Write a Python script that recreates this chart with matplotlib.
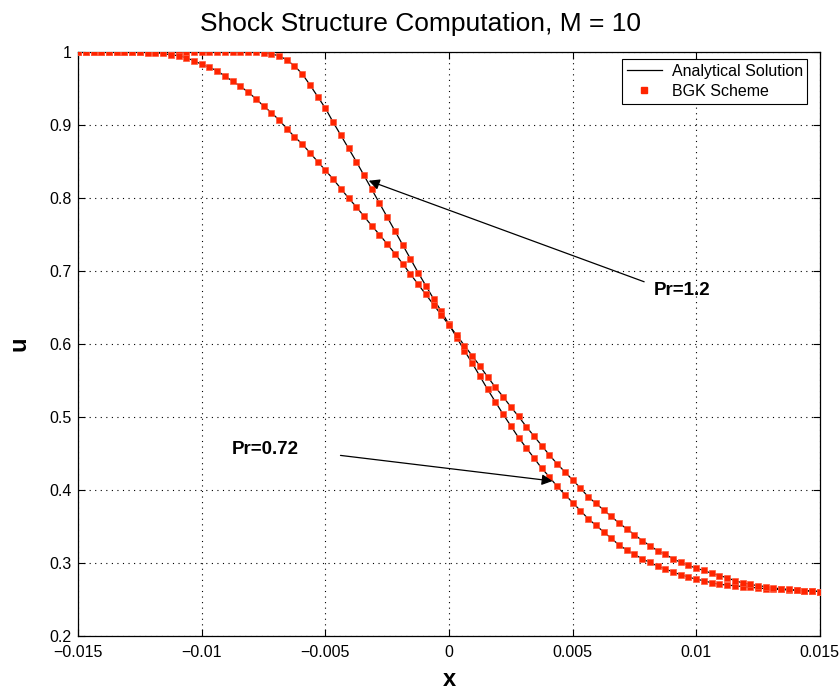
import numpy as np
import matplotlib
matplotlib.use("Agg")
import matplotlib.pyplot as plt

plt.rcParams['font.family'] = ['Liberation Sans', 'DejaVu Sans']

# mesh of the computation (97 points over the domain)
x = np.linspace(-0.015, 0.015, 97)

# u for Pr = 0.72 (wider shock)
u_pr072 = [1.000, 1.000, 1.000, 1.000, 1.000, 1.000, 1.000, 1.000, 1.000, 0.999,
           0.999, 0.998, 0.996, 0.995, 0.992, 0.988, 0.983, 0.979, 0.974, 0.967,
           0.960, 0.953, 0.945, 0.936, 0.926, 0.917, 0.907, 0.895, 0.884, 0.874,
           0.862, 0.850, 0.838, 0.826, 0.813, 0.800, 0.788, 0.775, 0.762, 0.750,
           0.737, 0.724, 0.710, 0.696, 0.682, 0.668, 0.654, 0.640, 0.626, 0.612,
           0.598, 0.584, 0.570, 0.555, 0.541, 0.528, 0.514, 0.501, 0.487, 0.474,
           0.461, 0.448, 0.436, 0.425, 0.414, 0.403, 0.391, 0.382, 0.373, 0.364,
           0.355, 0.347, 0.339, 0.331, 0.324, 0.317, 0.312, 0.306, 0.301, 0.297,
           0.293, 0.290, 0.286, 0.283, 0.280, 0.276, 0.273, 0.271, 0.269, 0.268,
           0.266, 0.265, 0.264, 0.263, 0.262, 0.262, 0.261]

# u for Pr = 1.2 (steeper shock)
u_pr12 = [1.000, 1.000, 1.000, 1.000, 1.000, 1.000, 1.000, 1.000, 1.000, 1.000,
          1.000, 1.000, 1.000, 1.000, 1.000, 1.000, 1.000, 1.000, 1.000, 1.000,
          1.000, 1.000, 1.000, 1.000, 0.999, 0.997, 0.995, 0.989, 0.981, 0.970,
          0.955, 0.939, 0.923, 0.904, 0.886, 0.868, 0.850, 0.831, 0.812, 0.793,
          0.774, 0.755, 0.736, 0.717, 0.698, 0.680, 0.662, 0.645, 0.627, 0.609,
          0.591, 0.574, 0.556, 0.538, 0.521, 0.504, 0.488, 0.472, 0.458, 0.444,
          0.430, 0.418, 0.405, 0.394, 0.383, 0.372, 0.361, 0.352, 0.343, 0.334,
          0.325, 0.318, 0.312, 0.306, 0.301, 0.296, 0.292, 0.288, 0.284, 0.281,
          0.278, 0.276, 0.273, 0.271, 0.270, 0.269, 0.268, 0.267, 0.266, 0.265,
          0.264, 0.264, 0.263, 0.263, 0.262, 0.262, 0.261]

xticks = [-0.015, -0.01, -0.005, 0, 0.005, 0.01, 0.015]
xtick_labels = ['\u22120.015', '\u22120.01', '\u22120.005', '0', '0.005', '0.01', '0.015']
yticks = [0.2, 0.3, 0.4, 0.5, 0.6, 0.7, 0.8, 0.9, 1]
ytick_labels = ['0.2', '0.3', '0.4', '0.5', '0.6', '0.7', '0.8', '0.9', '1']

red = '#ff2400'

fig = plt.figure(figsize=(8.4, 6.93), dpi=100)
ax = fig.add_axes([0.093, 0.082, 0.883, 0.843])

for u in (u_pr12, u_pr072):
    ax.plot(x, u, color='k', lw=0.9, zorder=2)
    ax.plot(x, u, color=red, marker='s', ls='none', ms=4.9, mec='#ff5a3c', mew=0.5,
            zorder=3)

# legend handles
ax.plot([], [], color='k', lw=0.9, label='Analytical Solution')
ax.plot([], [], color=red, marker='s', ls='none', ms=4.6, label='BGK Scheme')
handles, labels = ax.get_legend_handles_labels()
leg = ax.legend(handles, labels, loc='upper right', fontsize=11.5, frameon=True,
                fancybox=False, edgecolor='k', framealpha=1, borderpad=0.3,
                labelspacing=0.3, handlelength=2.2, handletextpad=0.6,
                borderaxespad=0.45, bbox_to_anchor=(0.993, 1.0))
leg.get_frame().set_linewidth(0.8)

ax.set_xlim(-0.015, 0.015)
ax.set_ylim(0.2, 1.0)
ax.set_xticks(xticks)
ax.set_xticklabels(xtick_labels)
ax.set_yticks(yticks)
ax.set_yticklabels(ytick_labels)
ax.tick_params(direction='in', top=True, right=True, labelsize=11.5, length=5,
               width=0.8)
ax.tick_params(axis='x', pad=6)
ax.tick_params(axis='y', pad=4.5)
ax.grid(True, color='k', ls=(0, (1, 4)), lw=0.8)
for s in ax.spines.values():
    s.set_linewidth(0.9)

fig.text(0.5, 1 - 24 / 693, 'Shock Structure Computation, M = 10', fontsize=19,
         ha='center', va='center')
ax.set_xlabel('x', fontsize=17, fontweight='bold', labelpad=6)
ax.set_ylabel('u', fontsize=17, fontweight='bold', labelpad=14)

arrow = dict(arrowstyle='-|>', color='k', lw=0.9, mutation_scale=16)
ax.annotate('', xy=(-0.00335, 0.825), xytext=(0.0080, 0.684), arrowprops=arrow)
ax.text(0.0083, 0.674, 'Pr=1.2', fontsize=13.5, fontweight='bold', va='center')
ax.annotate('', xy=(0.0043, 0.412), xytext=(-0.0045, 0.448), arrowprops=arrow)
ax.text(-0.0088, 0.455, 'Pr=0.72', fontsize=13.5, fontweight='bold', va='center')

fig.savefig('out.png', dpi=100)
